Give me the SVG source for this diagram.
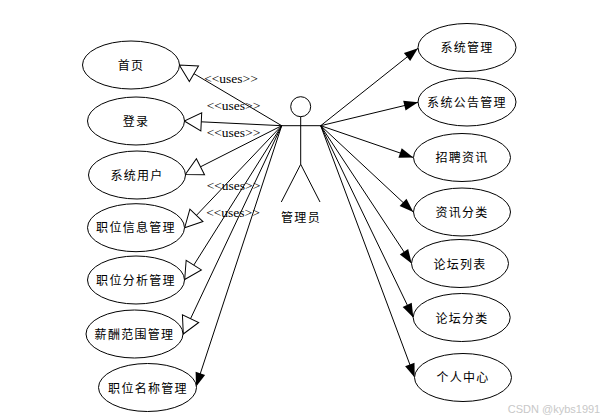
<svg xmlns="http://www.w3.org/2000/svg" width="608" height="420" viewBox="0 0 608 420">
<style>
.n{fill:#fff;stroke:#000;stroke-width:1}
.c{fill:none;stroke:#000;stroke-width:1}
.o{marker-end:url(#open)}
.f{marker-end:url(#fill)}
text{font-family:"Noto Sans CJK SC","Liberation Sans",sans-serif;font-size:12px;letter-spacing:1.3px;text-anchor:middle;fill:#000}
.u{font-family:"Liberation Serif",serif;font-size:13.5px;letter-spacing:0;fill:#000}
.w{font-family:"Liberation Sans",sans-serif;font-size:11px;letter-spacing:0;fill:#c8c8c8}
</style>
<defs>
<marker id="open" markerUnits="userSpaceOnUse" markerWidth="20" markerHeight="22" viewBox="0 0 20 22" refX="18.5" refY="11" orient="auto"><path d="M18.5 11L1.5 2V20Z" fill="#fff" stroke="#000"/></marker>
<marker id="fill" markerUnits="userSpaceOnUse" markerWidth="16" markerHeight="12" viewBox="0 0 16 12" refX="15" refY="6" orient="auto"><path d="M15 6L1 1V11Z" fill="#000"/></marker>
</defs>
<g id="connectors">
<line class="c o" x1="281.7" y1="125.7" x2="179.3" y2="65"/>
<line class="c o" x1="281.7" y1="125.7" x2="184.3" y2="121"/>
<line class="c o" x1="281.7" y1="125.7" x2="185.3" y2="174.5"/>
<line class="c o" x1="281.7" y1="125.7" x2="184.7" y2="227.7"/>
<line class="c o" x1="281.7" y1="125.7" x2="184.7" y2="279.5"/>
<line class="c o" x1="281.7" y1="125.7" x2="183.3" y2="334"/>
<line class="c f" x1="281.7" y1="125.7" x2="196" y2="386.7"/>
<line class="c f" x1="320.7" y1="125.7" x2="418" y2="48.3"/>
<line class="c f" x1="320.7" y1="125.7" x2="418" y2="102.3"/>
<line class="c f" x1="320.7" y1="125.7" x2="413.3" y2="157.5"/>
<line class="c f" x1="320.7" y1="125.7" x2="413.3" y2="212"/>
<line class="c f" x1="320.7" y1="125.7" x2="411.7" y2="263.5"/>
<line class="c f" x1="320.7" y1="125.7" x2="413.3" y2="317.5"/>
<line class="c f" x1="320.7" y1="125.7" x2="414.7" y2="377.5"/>
</g>
<g id="actor">
<circle class="n" cx="300.7" cy="106.7" r="10"/>
<path class="c" d="M281.7 125.7H320.7M300.7 116.7V164.3M300.7 164.3L281.3 202M300.7 164.3L320 202"/>
<text x="301" y="222">管理员</text>
</g>
<g id="uc-home"><ellipse class="n" cx="131" cy="65" rx="48.5" ry="24"/><text x="131" y="70">首页</text></g>
<g id="uc-login"><ellipse class="n" cx="136" cy="121" rx="48.5" ry="24"/><text x="136" y="126">登录</text></g>
<g id="uc-user"><ellipse class="n" cx="137" cy="175" rx="48.5" ry="24"/><text x="137" y="180">系统用户</text></g>
<g id="uc-jobinfo"><ellipse class="n" cx="136" cy="227.7" rx="48.5" ry="24"/><text x="136" y="232">职位信息管理</text></g>
<g id="uc-jobanalysis"><ellipse class="n" cx="136" cy="280" rx="48.5" ry="24"/><text x="136" y="285">职位分析管理</text></g>
<g id="uc-salary"><ellipse class="n" cx="134.5" cy="334" rx="48.5" ry="24"/><text x="134.5" y="339">薪酬范围管理</text></g>
<g id="uc-jobname"><ellipse class="n" cx="147.5" cy="387.5" rx="49" ry="24"/><text x="148" y="393">职位名称管理</text></g>
<g id="uc-system"><ellipse class="n" cx="467" cy="47.5" rx="49" ry="24"/><text x="467" y="52">系统管理</text></g>
<g id="uc-notice"><ellipse class="n" cx="467" cy="102" rx="49" ry="24"/><text x="467" y="107">系统公告管理</text></g>
<g id="uc-recruit"><ellipse class="n" cx="462" cy="157.5" rx="48.5" ry="24"/><text x="462" y="162">招聘资讯</text></g>
<g id="uc-newscat"><ellipse class="n" cx="462" cy="212" rx="48.5" ry="24"/><text x="462" y="217">资讯分类</text></g>
<g id="uc-forumlist"><ellipse class="n" cx="460" cy="263.5" rx="48.5" ry="24"/><text x="460" y="269">论坛列表</text></g>
<g id="uc-forumcat"><ellipse class="n" cx="461.7" cy="317.5" rx="48.5" ry="24"/><text x="462" y="323">论坛分类</text></g>
<g id="uc-personal"><ellipse class="n" cx="463" cy="377.5" rx="48.5" ry="24"/><text x="463" y="382">个人中心</text></g>
<g id="labels">
<text class="u" x="231" y="83">&lt;&lt;uses&gt;&gt;</text>
<text class="u" x="233.5" y="110">&lt;&lt;uses&gt;&gt;</text>
<text class="u" x="233.5" y="137">&lt;&lt;uses&gt;&gt;</text>
<text class="u" x="233.5" y="190">&lt;&lt;uses&gt;&gt;</text>
<text class="u" x="233" y="217">&lt;&lt;uses&gt;&gt;</text>
<text class="w" x="554" y="413">CSDN @kybs1991</text>
</g>
</svg>
